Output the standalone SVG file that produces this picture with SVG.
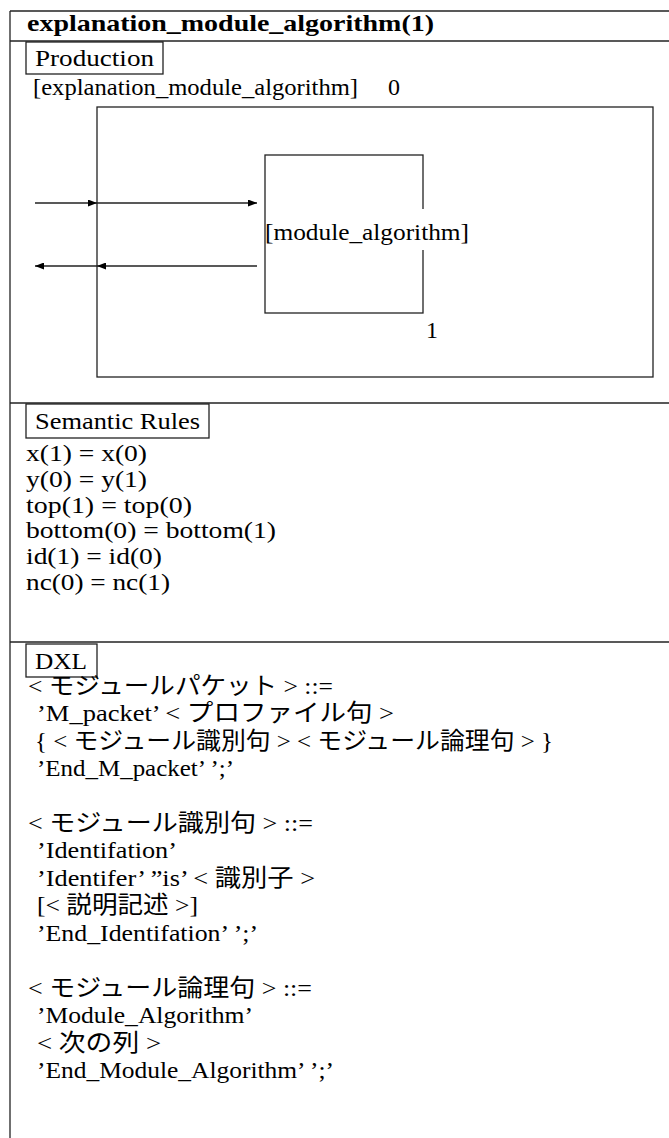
<svg xmlns="http://www.w3.org/2000/svg" width="669" height="1138" viewBox="0 0 669 1138">
<defs>
<style>
.t{font-family:"Liberation Serif","Noto Sans CJK JP",serif;font-size:24px;fill:#000}
.b{font-family:"Liberation Serif",serif;font-size:24px;font-weight:bold;fill:#000}
.ln{stroke:#222;stroke-width:1.3;fill:none}
.bx{stroke:#222;stroke-width:1.3;fill:#fff}
</style>
<marker id="ah" viewBox="0 0 9 7" refX="9" refY="3.5" markerWidth="9" markerHeight="7" markerUnits="userSpaceOnUse" orient="auto">
<path d="M0,0 L9,3.5 L0,7 z" fill="#000"/>
</marker>
</defs>
<rect width="669" height="1138" fill="#fff"/>
<g id="frame">
<line class="ln" x1="10" y1="11" x2="669" y2="11"/>
<line class="ln" x1="10" y1="11" x2="10" y2="1138"/>
<line class="ln" x1="10" y1="41" x2="669" y2="41"/>
<line class="ln" x1="10" y1="403" x2="669" y2="403"/>
<line class="ln" x1="10" y1="642" x2="669" y2="642"/>
</g>
<g id="title"><text class="b" x="27" y="31" textLength="407" lengthAdjust="spacingAndGlyphs">explanation_module_algorithm(1)</text></g>
<g id="production-label"><rect class="bx" x="26" y="42" width="137" height="32"/><text class="t" x="35" y="66" textLength="119" lengthAdjust="spacingAndGlyphs">Production</text></g>
<g id="parent-label"><text class="t" x="33" y="95" textLength="325" lengthAdjust="spacingAndGlyphs">[explanation_module_algorithm]</text><text class="t" x="388" y="95">0</text></g>
<g id="outer-box"><rect class="bx" x="97" y="107" width="556" height="270"/></g>
<g id="module-algorithm">
<rect class="bx" x="265" y="155" width="158" height="158"/>
<rect x="267" y="209" width="203" height="41" fill="#fff"/>
<text class="t" x="265" y="240" textLength="204" lengthAdjust="spacingAndGlyphs">[module_algorithm]</text>
<text class="t" x="426" y="338">1</text>
</g>
<g id="connectors">
<line class="ln" x1="35" y1="203" x2="97" y2="203" marker-end="url(#ah)"/>
<line class="ln" x1="97" y1="203" x2="257" y2="203" marker-end="url(#ah)"/>
<line class="ln" x1="257" y1="266" x2="97" y2="266" marker-end="url(#ah)"/>
<line class="ln" x1="97" y1="266" x2="35" y2="266" marker-end="url(#ah)"/>
</g>
<g id="semantic-rules">
<rect class="bx" x="26" y="404" width="183" height="34"/>
<text class="t" x="35" y="429" textLength="165" lengthAdjust="spacingAndGlyphs">Semantic Rules</text>
<text class="t" x="26" y="461" textLength="121" lengthAdjust="spacingAndGlyphs">x(1) = x(0)</text>
<text class="t" x="26" y="487" textLength="121" lengthAdjust="spacingAndGlyphs">y(0) = y(1)</text>
<text class="t" x="26" y="513" textLength="166" lengthAdjust="spacingAndGlyphs">top(1) = top(0)</text>
<text class="t" x="26" y="538" textLength="250" lengthAdjust="spacingAndGlyphs">bottom(0) = bottom(1)</text>
<text class="t" x="26" y="564" textLength="136" lengthAdjust="spacingAndGlyphs">id(1) = id(0)</text>
<text class="t" x="26" y="590" textLength="144" lengthAdjust="spacingAndGlyphs">nc(0) = nc(1)</text>
</g>
<g id="dxl">
<rect class="bx" x="26" y="644" width="71" height="33"/>
<text class="t" x="35" y="669" textLength="52" lengthAdjust="spacingAndGlyphs">DXL</text>
<text class="t" x="28" y="694" textLength="305" lengthAdjust="spacingAndGlyphs">&lt; モジュールパケット &gt;  ::=</text>
<text class="t" x="37" y="721" textLength="357" lengthAdjust="spacingAndGlyphs">’M_packet’   &lt; プロファイル句 &gt;</text>
<text class="t" x="35" y="749" textLength="518" lengthAdjust="spacingAndGlyphs">{ &lt; モジュール識別句 &gt; &lt; モジュール論理句 &gt; }</text>
<text class="t" x="37" y="776" textLength="197" lengthAdjust="spacingAndGlyphs">’End_M_packet’ ’;’</text>
<text class="t" x="28" y="831" textLength="285" lengthAdjust="spacingAndGlyphs">&lt; モジュール識別句 &gt;  ::=</text>
<text class="t" x="37" y="858" textLength="140" lengthAdjust="spacingAndGlyphs">’Identifation’</text>
<text class="t" x="37" y="886" textLength="278" lengthAdjust="spacingAndGlyphs">’Identifer’ ”is’ &lt; 識別子 &gt;</text>
<text class="t" x="37" y="913" textLength="161" lengthAdjust="spacingAndGlyphs">[&lt; 説明記述 &gt;]</text>
<text class="t" x="37" y="941" textLength="221" lengthAdjust="spacingAndGlyphs">’End_Identifation’ ’;’</text>
<text class="t" x="28" y="996" textLength="284" lengthAdjust="spacingAndGlyphs">&lt; モジュール論理句 &gt;  ::=</text>
<text class="t" x="37" y="1023" textLength="216" lengthAdjust="spacingAndGlyphs">’Module_Algorithm’</text>
<text class="t" x="37" y="1051" textLength="124" lengthAdjust="spacingAndGlyphs">&lt; 次の列 &gt;</text>
<text class="t" x="37" y="1078" textLength="297" lengthAdjust="spacingAndGlyphs">’End_Module_Algorithm’ ’;’</text>
</g>
</svg>
